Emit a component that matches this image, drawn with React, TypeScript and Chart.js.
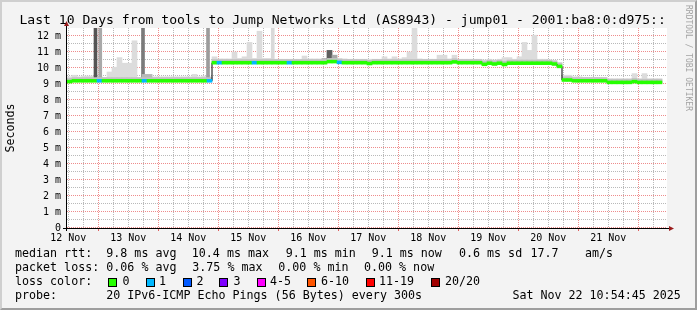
import React, { useEffect, useRef } from 'react';
import { Chart, registerables } from 'chart.js';

Chart.register(...registerables);

const FONT = "'DejaVu Sans Mono', monospace";

// ---- time axis (hours counted from 12 Nov 00:00) ----
const X_MIN_HOUR = 11.5;
const X_MAX_HOUR = 251.5;
const BIN_HOURS = 2;
const FIRST_BIN_HOUR = 12.5;
const GRID_STEP_HOURS = 6;
const Y_MAX_MS = 12.5;
const Y_GRID_STEP_MS = 0.5;

const dayLabels = ['12 Nov', '13 Nov', '14 Nov', '15 Nov', '16 Nov', '17 Nov', '18 Nov', '19 Nov', '20 Nov', '21 Nov'];

// ---- median rtt per 2h bin (ms) ----
const medianMs: (number | null)[] = [
  9.15, 9.2, 9.2, 9.2, 9.2, 9.2, 9.2, 9.2, 9.2, 9.2,
  9.2, 9.2, 9.2, 9.2, 9.2, 9.2, 9.2, 9.2, 9.2, 9.2,
  9.2, 9.2, 9.2, 9.2, 9.2, 9.2, 9.2, 9.2, 9.2, 10.33,
  10.33, 10.33, 10.33, 10.33, 10.33, 10.33, 10.33, 10.33, 10.33, 10.33,
  10.33, 10.33, 10.33, 10.33, 10.33, 10.33, 10.33, 10.33, 10.33, 10.33,
  10.33, 10.33, 10.4, 10.4, 10.35, 10.33, 10.33, 10.33, 10.33, 10.33,
  10.28, 10.33, 10.33, 10.33, 10.33, 10.33, 10.33, 10.33, 10.33, 10.33,
  10.33, 10.33, 10.33, 10.33, 10.33, 10.33, 10.33, 10.38, 10.33, 10.33,
  10.33, 10.33, 10.33, 10.23, 10.3, 10.25, 10.3, 10.22, 10.3, 10.3,
  10.3, 10.3, 10.3, 10.3, 10.3, 10.3, 10.3, 10.25, 10.1, 9.25,
  9.25, 9.2, 9.2, 9.2, 9.2, 9.2, 9.2, 9.2, 9.1, 9.1,
  9.1, 9.1, 9.1, 9.15, 9.1, 9.1, 9.1, 9.1, 9.1, null,
];

// ---- upper edge of the light smoke per bin (ms) ----
const smokeTopMs: (number | null)[] = [
  9.45, 9.55, 9.45, 9.5, 9.5, 9.5, 9.45, 9.4, 9.75, 10.05,
  10.65, 10.3, 10.3, 11.7, 9.4, 9.6, 9.6, 9.45, 9.45, 9.45,
  9.45, 9.45, 9.45, 9.45, 9.45, 9.6, 9.45, 9.5, 9.45, 10.7,
  10.57, 10.57, 10.57, 11.0, 10.6, 10.7, 11.6, 10.6, 12.3, 10.6,
  10.6, 10.55, 10.55, 10.55, 10.55, 10.55, 10.55, 10.75, 10.57, 10.57,
  10.57, 10.6, 11.1, 10.8, 10.6, 10.57, 10.55, 10.55, 10.55, 10.55,
  10.55, 10.55, 10.55, 10.7, 10.57, 10.7, 10.57, 10.65, 11.0, 13.0,
  10.57, 10.55, 10.55, 10.55, 10.8, 10.8, 10.57, 10.8, 10.55, 10.55,
  10.55, 10.55, 10.55, 10.5, 10.55, 10.5, 10.55, 10.65, 10.65, 10.55,
  10.7, 11.6, 11.1, 12.05, 10.55, 10.55, 10.5, 10.45, 10.35, 9.55,
  9.55, 9.45, 9.45, 9.42, 9.42, 9.42, 9.42, 9.4, 9.33, 9.33,
  9.33, 9.33, 9.33, 9.65, 9.33, 9.65, 9.33, 9.33, 9.33, null,
];

// ---- lost pings per bin (of 20) ----
const lossPings: number[] = [
  0, 0, 0, 0, 0, 0, 1, 0, 0, 0,
  0, 0, 0, 0, 0, 1, 0, 0, 0, 0,
  0, 0, 0, 0, 0, 0, 0, 0, 1, 0,
  1, 0, 0, 0, 0, 0, 0, 1, 0, 0,
  0, 0, 0, 0, 1, 0, 0, 0, 0, 0,
  0, 0, 0, 0, 1, 0, 0, 0, 0, 0,
  0, 0, 0, 0, 0, 0, 0, 0, 0, 0,
  0, 0, 0, 0, 0, 0, 0, 0, 0, 0,
  0, 0, 0, 0, 0, 0, 0, 0, 0, 0,
  0, 0, 0, 0, 0, 0, 0, 0, 0, 0,
  0, 0, 0, 0, 0, 0, 0, 0, 0, 0,
  0, 0, 0, 0, 0, 0, 0, 0, 0, 0,
];

// ---- narrow high-latency spikes ----
const spikeHours = [22.9, 24.8, 41.9, 67.9, 93.8];
const spikeBaseMs = [9.2, 9.2, 9.2, 9.2, 10.33];
const spikeTopMs = [13, 13, 13, 13, 13];
const SPIKE_SHADES = ['#545454', '#a9a9a9', '#7a7a7a', '#9c9c9c', '#d9d9d9'];

// ---- darker smoke bumps ----
const bumpHours = [42.5, 44.5, 114.5, 116.5, 118.5];
const bumpBaseMs = [9.2, 9.2, 10.33, 10.4, 10.4];
const bumpTopMs = [9.6, 9.6, 10.6, 11.1, 10.8];
const BUMP_SHADES = ['#b8b8b8', '#b8b8b8', '#b8b8b8', '#5e5e5e', '#a8a8a8'];

// ---- legend ----
const lossLegend = ['0', '1', '2', '3', '4-5', '6-10', '11-19', '20/20'];
const LOSS_COLORS = ['#26ff00', '#00b8ff', '#0059ff', '#7e00ff', '#ff00ff', '#ff5500', '#ff0000', '#a10000'];
const medianStats = ['9.8 ms avg', '10.4 ms max', '9.1 ms min', '9.1 ms now', '0.6 ms sd', '17.7', 'am/s'];
const lossStats = ['0.06 % avg', '3.75 % max', '0.00 % min', '0.00 % now'];
const probeText = '20 IPv6-ICMP Echo Pings (56 Bytes) every 300s';
const dateText = 'Sat Nov 22 10:54:45 2025';
const titleText = 'Last 10 Days from tools to Jump Networks Ltd (AS8943) - jump01 - 2001:ba8:0:d975::';

// layout (pixels) for legend pieces
const MEDIAN_STAT_X = [106.3, 191.8, 285.7, 371.7, 459, 530.5, 585];
const LOSS_STAT_X = [106.3, 192.3, 278.3, 364];
const LOSS_BOX_X = [108, 145.5, 182.5, 219, 256.5, 307, 365.5, 431];
const LOSS_LABEL_X = [122.5, 159, 196.5, 233.5, 270, 321, 379, 445];

const MAJOR_GRID = '#ee8c8c';
const MINOR_GRID = '#b9b9b9';
const MAJOR_TICK = '#e06060';
const ARROW = '#9a1c1c';

function lossColor(n: number): string {
  if (n <= 0) return LOSS_COLORS[0];
  if (n === 1) return LOSS_COLORS[1];
  if (n === 2) return LOSS_COLORS[2];
  if (n === 3) return LOSS_COLORS[3];
  if (n <= 5) return LOSS_COLORS[4];
  if (n <= 10) return LOSS_COLORS[5];
  if (n <= 19) return LOSS_COLORS[6];
  return LOSS_COLORS[7];
}

export default function App() {
  const ref = useRef<HTMLCanvasElement>(null);

  useEffect(() => {
    if (!ref.current) return;
    const binHours = medianMs.map((_, i) => FIRST_BIN_HOUR + i * BIN_HOURS);
    const band = (lo: number, hi: number) =>
      binHours.map((h, i) => {
        const m = medianMs[i];
        return { x: h, y: m == null ? null : [m + lo, m + hi] };
      });

    const gridHours: number[] = [];
    for (let h = 12; h < X_MAX_HOUR; h += GRID_STEP_HOURS) gridHours.push(h);
    const gridMs: number[] = [];
    for (let k = 0; k * Y_GRID_STEP_MS <= Y_MAX_MS; k++) gridMs.push(k * Y_GRID_STEP_MS);

    const plotBg = {
      id: 'plotBg',
      beforeDraw(chart: any) {
        const { ctx, chartArea: a } = chart;
        ctx.save();
        ctx.fillStyle = '#ffffff';
        ctx.fillRect(a.left, a.top, a.right - a.left, a.bottom - a.top);
        ctx.restore();
      },
      beforeDatasetsDraw(chart: any) {
        const { ctx, chartArea: a } = chart;
        const xs = chart.scales.x;
        const ys = chart.scales.y;
        const L = Math.round(a.left), R = Math.round(a.right);
        const T = Math.round(a.top), B = Math.round(a.bottom);
        ctx.save();
        const dots = (major: boolean) => {
          ctx.fillStyle = major ? MAJOR_GRID : MINOR_GRID;
          for (const h of gridHours) {
            if ((h % 24 === 0) !== major) continue;
            const px = Math.floor(xs.getPixelForValue(h));
            for (let y = T; y < B; y += 2) ctx.fillRect(px, y, 1, 1);
          }
          for (const v of gridMs) {
            if (Number.isInteger(v) !== major) continue;
            const py = Math.round(ys.getPixelForValue(v)) - 1;
            if (py < T) continue;
            for (let x = L; x < R; x += 2) ctx.fillRect(x, py, 1, 1);
          }
        };
        dots(false);
        dots(true);
        ctx.fillStyle = MAJOR_TICK;
        for (const h of gridHours) {
          if (h % 24 !== 0) continue;
          const px = Math.floor(xs.getPixelForValue(h));
          ctx.fillRect(px, B, 1, 3);
        }
        ctx.restore();
      },
    };
    const axes = {
      id: 'axes',
      afterDatasetsDraw(chart: any) {
        const { ctx, chartArea: a } = chart;
        ctx.save();
        ctx.strokeStyle = '#000';
        ctx.lineWidth = 1;
        ctx.beginPath();
        ctx.moveTo(a.left - 0.5, a.bottom + 3);
        ctx.lineTo(a.left - 0.5, a.top - 4);
        ctx.moveTo(a.left - 4, a.bottom + 0.5);
        ctx.lineTo(a.right + 3, a.bottom + 0.5);
        ctx.stroke();
        ctx.fillStyle = ARROW;
        ctx.beginPath();
        ctx.moveTo(a.left - 0.5, a.top - 7);
        ctx.lineTo(a.left - 3, a.top - 2);
        ctx.lineTo(a.left + 2, a.top - 2);
        ctx.closePath();
        ctx.fill();
        ctx.beginPath();
        ctx.moveTo(a.right + 7, a.bottom + 0.5);
        ctx.lineTo(a.right + 2, a.bottom - 2);
        ctx.lineTo(a.right + 2, a.bottom + 3);
        ctx.closePath();
        ctx.fill();
        ctx.restore();
      },
    };

    const chart = new Chart(ref.current, {
      type: 'bar',
      data: {
        datasets: [
          {
            type: 'bar',
            label: 'median',
            data: band(-0.09, 0.09) as any,
            backgroundColor: lossPings.map(lossColor),
            barThickness: 5,
            stack: 's',
            order: 0,
          },
          {
            type: 'line',
            label: 'median line',
            data: binHours.map((h, i) => ({ x: h, y: medianMs[i] })) as any,
            borderColor: '#000000',
            borderWidth: 1,
            pointRadius: 0,
            stepped: 'middle',
            order: 1,
          },
          {
            type: 'bar',
            label: 'near median',
            data: band(-0.02, 0.2) as any,
            backgroundColor: '#c2c2c2',
            barThickness: 5,
            stack: 's',
            order: 2,
          },
          {
            type: 'bar',
            label: 'bumps',
            data: bumpHours.map((h, i) => ({ x: h, y: [bumpBaseMs[i], bumpTopMs[i]] })) as any,
            backgroundColor: BUMP_SHADES,
            barThickness: 5,
            stack: 's',
            order: 3,
          },
          {
            type: 'bar',
            label: 'spikes',
            data: spikeHours.map((h, i) => ({ x: h, y: [spikeBaseMs[i], spikeTopMs[i]] })) as any,
            backgroundColor: SPIKE_SHADES,
            barThickness: 3,
            stack: 's',
            order: 4,
          },
          {
            type: 'bar',
            label: 'smoke',
            data: binHours.map((h, i) => {
              const m = medianMs[i];
              const t = smokeTopMs[i];
              return { x: h, y: m == null || t == null ? null : [m - 0.06, t] };
            }) as any,
            backgroundColor: '#dcdcdc',
            barThickness: 5,
            stack: 's',
            order: 5,
          },
        ],
      },
      options: {
        responsive: false,
        animation: false,
        events: [],
        layout: { padding: { top: 28, right: 30, bottom: 0, left: 0 } },
        plugins: { legend: { display: false }, tooltip: { enabled: false }, title: { display: false } },
        scales: {
          x: {
            type: 'linear',
            min: X_MIN_HOUR,
            max: X_MAX_HOUR,
            offset: false,
            afterBuildTicks: (scale: any) => {
              scale.ticks = gridHours.map((h) => ({ value: h }));
            },
            afterFit: (scale: any) => {
              scale.height = 82;
            },
            grid: {
              display: true,
              drawOnChartArea: false,
              drawTicks: true,
              offset: false,
              tickLength: 3,
              tickColor: 'rgba(0,0,0,0)',
            },
            border: { display: false },
            ticks: {
              autoSkip: false,
              maxRotation: 0,
              minRotation: 0,
              padding: 1,
              color: '#000',
              font: { family: FONT, size: 10 },
              callback: (value: any) => {
                const v = Number(value);
                if (v % 24 !== 12) return '';
                return dayLabels[Math.floor(v / 24)] ?? '';
              },
            },
          },
          y: {
            type: 'linear',
            min: 0,
            max: Y_MAX_MS,
            stacked: false,
            afterBuildTicks: (scale: any) => {
              scale.ticks = gridMs.map((v) => ({ value: v }));
            },
            afterFit: (scale: any) => {
              scale.width = 67;
            },
            grid: {
              display: true,
              drawOnChartArea: false,
              drawTicks: true,
              tickLength: 3,
              tickColor: 'rgba(0,0,0,0)',
            },
            border: { display: false },
            title: {
              display: true,
              text: 'Seconds',
              color: '#000',
              font: { family: FONT, size: 11.67 },
              padding: { top: 4, bottom: 4 },
            },
            ticks: {
              autoSkip: false,
              padding: 3,
              color: '#000',
              font: { family: FONT, size: 10 },
              callback: (value: any) => {
                const v = Number(value);
                if (!Number.isInteger(v)) return '';
                return v === 0 ? '0' : `${v} m`;
              },
            },
          },
        },
      } as any,
      plugins: [plotBg, axes],
    });
    return () => chart.destroy();
  }, []);

  const legendFont: React.CSSProperties = {
    position: 'absolute',
    fontFamily: FONT,
    fontSize: '11.67px',
    lineHeight: '11.67px',
    whiteSpace: 'pre',
    color: '#000',
  };
  const rowTop = [248.4, 262.4, 276.4, 290.4];

  return (
    <div
      style={{
        position: 'fixed',
        left: 0,
        top: 0,
        width: 697,
        height: 310,
        background: '#f3f3f3',
        overflow: 'hidden',
      }}
    >
      <canvas ref={ref} width={697} height={310} style={{ position: 'absolute', left: 0, top: 0 }} />
      <div
        style={{
          position: 'absolute',
          left: 19.4,
          top: 12.9,
          fontFamily: FONT,
          fontSize: '13.1px',
          lineHeight: '13.1px',
          whiteSpace: 'pre',
          color: '#000',
        }}
      >
        {titleText}
      </div>
      <div
        style={{
          position: 'absolute',
          left: 684,
          top: 4.5,
          fontFamily: FONT,
          fontSize: '8px',
          lineHeight: '8px',
          whiteSpace: 'pre',
          color: '#a3a3a3',
          writingMode: 'vertical-rl',
        }}
      >
        RRDTOOL / TOBI OETIKER
      </div>

      <div style={{ ...legendFont, left: 15, top: rowTop[0] }}>median rtt:</div>
      {medianStats.map((s, i) => (
        <div key={'m' + i} style={{ ...legendFont, left: MEDIAN_STAT_X[i], top: rowTop[0] }}>
          {s}
        </div>
      ))}
      <div style={{ ...legendFont, left: 15, top: rowTop[1] }}>packet loss:</div>
      {lossStats.map((s, i) => (
        <div key={'l' + i} style={{ ...legendFont, left: LOSS_STAT_X[i], top: rowTop[1] }}>
          {s}
        </div>
      ))}
      <div style={{ ...legendFont, left: 15, top: rowTop[2] }}>loss color:</div>
      {lossLegend.map((s, i) => (
        <React.Fragment key={'c' + i}>
          <div
            style={{
              position: 'absolute',
              left: LOSS_BOX_X[i],
              top: 278,
              width: 9,
              height: 9,
              boxSizing: 'border-box',
              border: '1px solid #000',
              background: LOSS_COLORS[i],
            }}
          />
          <div style={{ ...legendFont, left: LOSS_LABEL_X[i], top: rowTop[2] }}>{s}</div>
        </React.Fragment>
      ))}
      <div style={{ ...legendFont, left: 15, top: rowTop[3] }}>probe:</div>
      <div style={{ ...legendFont, left: 106.2, top: rowTop[3] }}>{probeText}</div>
      <div style={{ ...legendFont, left: 512.4, top: rowTop[3] }}>{dateText}</div>

      <div
        style={{
          position: 'absolute',
          left: 0,
          top: 0,
          width: 697,
          height: 310,
          boxSizing: 'border-box',
          borderTop: '2px solid #cfcfcf',
          borderLeft: '2px solid #cfcfcf',
          borderBottom: '2px solid #9e9e9e',
          borderRight: '2px solid #9e9e9e',
          pointerEvents: 'none',
        }}
      />
    </div>
  );
}
